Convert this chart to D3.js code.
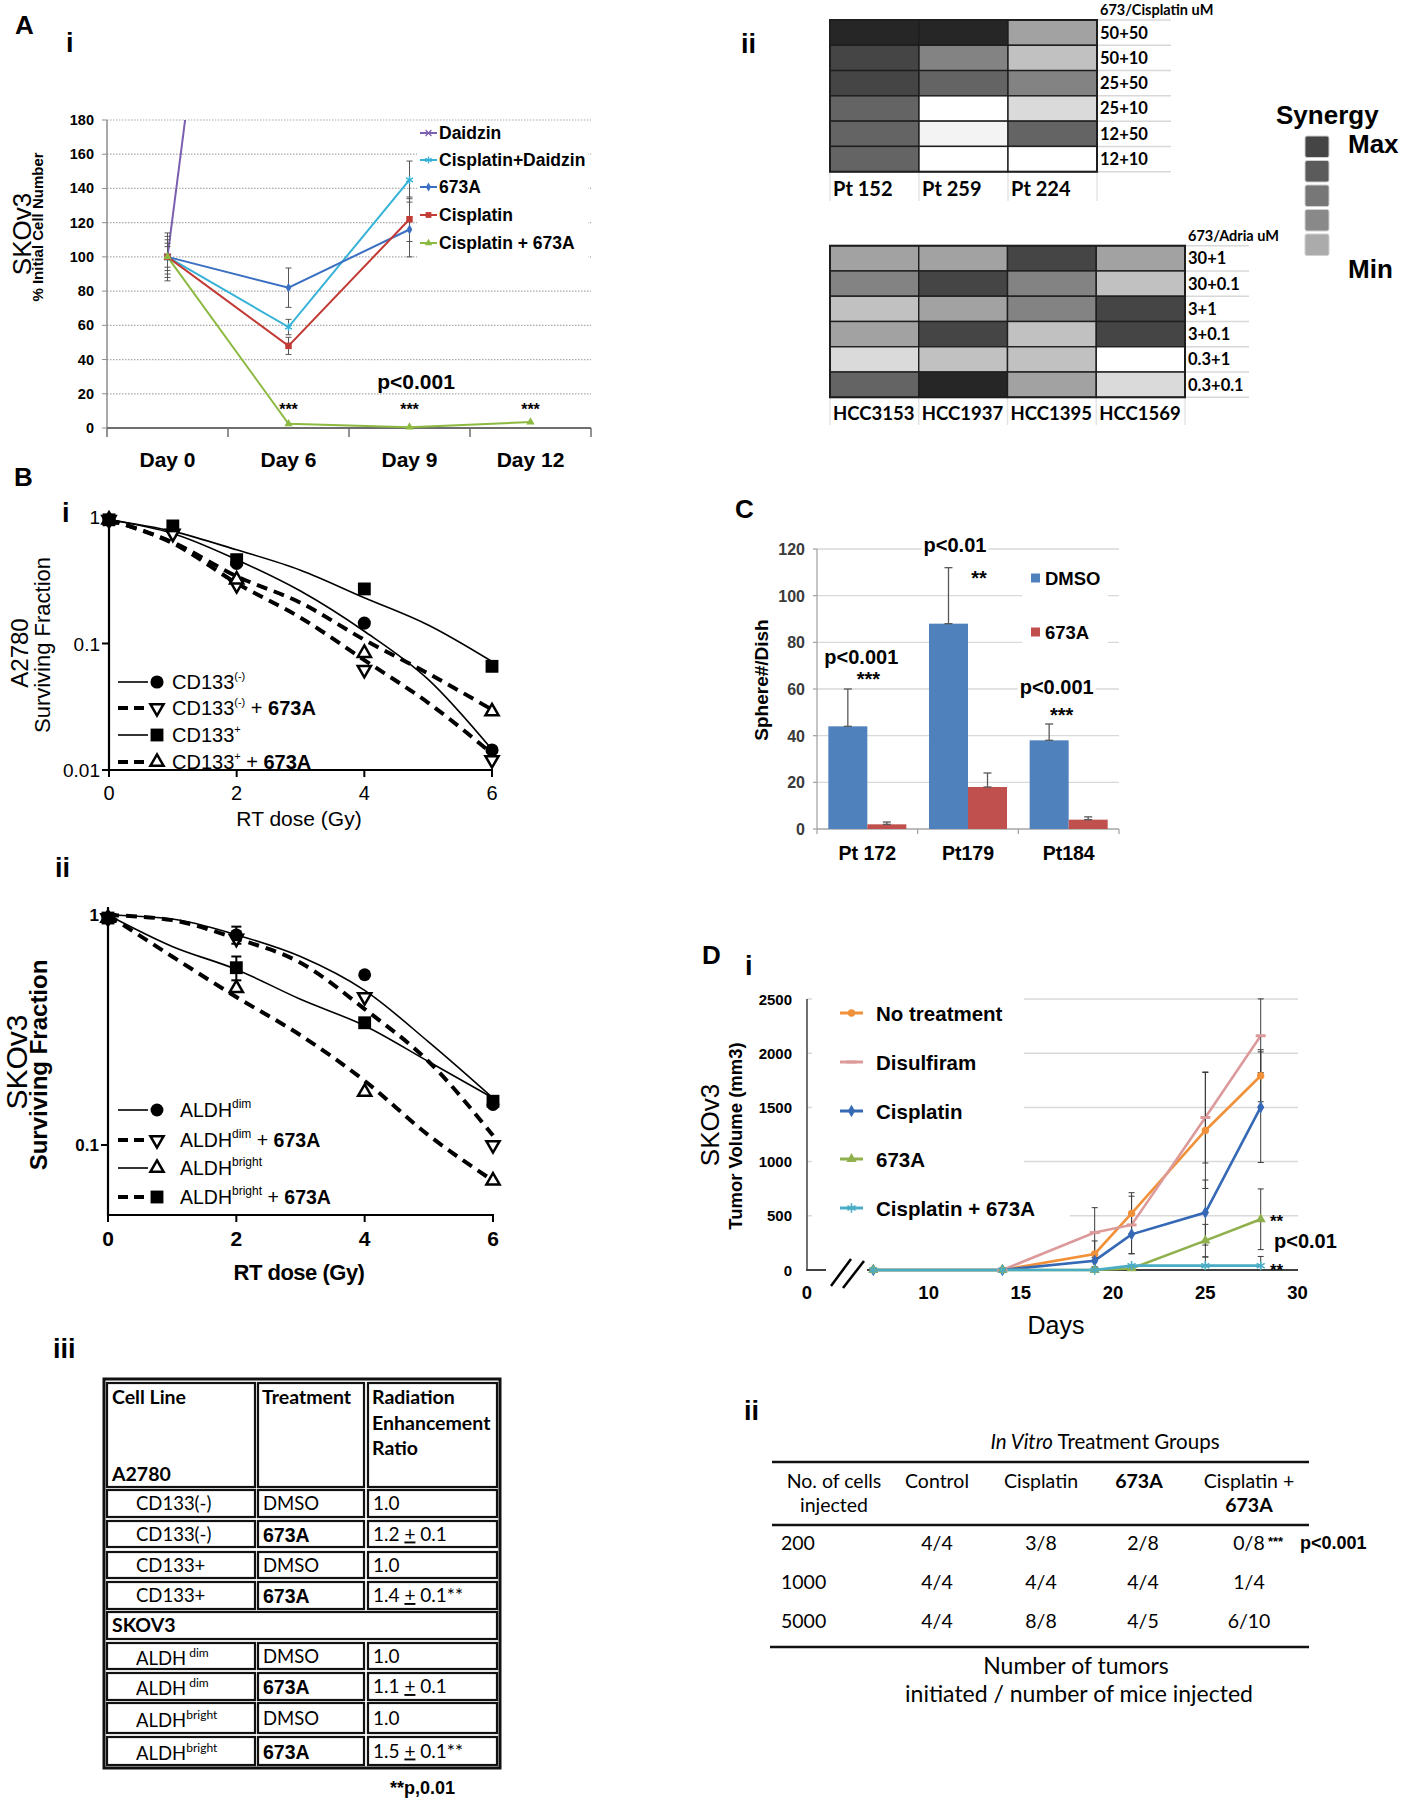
<!DOCTYPE html>
<html><head><meta charset="utf-8">
<script src="https://cdn.jsdelivr.net/npm/d3@7/dist/d3.min.js"></script>
<style>html,body{margin:0;padding:0;background:#fff}</style>
</head><body>
<svg id="fig" width="1402" height="1800" xmlns="http://www.w3.org/2000/svg"></svg>
<script>
// ======================= DATA =======================
// --- Panel A(i): SKOv3, % initial cell number ---
const aDays = ["Day 0","Day 6","Day 9","Day 12"];
const aYTicks = [0,20,40,60,80,100,120,140,160,180];
const aNames = ["Daidzin","Cisplatin+Daidzin","673A","Cisplatin","Cisplatin + 673A"];
const aDaidzin       = [100, 650, null, null];
const aCisDaidzin    = [100, 59, 145, null];
const a673A          = [100, 82, 116, null];
const aCisplatin     = [100, 48, 122, null];
const aCis673A       = [100, 2.5, 0.5, 3.5];
const aDaidzinErr    = [6, null, null, null];
const aCisDaidzinErr = [8, 4.5, 11, null];
const a673AErr       = [14, 11.5, 16, null];
const aCisplatinErr  = [12, 5, 13, null];
const aCis673AErr    = [10, null, null, null];
const aStars = ["", "***", "***", "***"];
const aPText = "p<0.001";

// --- Panel A(ii): synergy heatmaps (0 = min/white ... 7 = max/dark) ---
const hmTopTitle = "673/Cisplatin uM";
const hmTopCols = ["Pt 152","Pt 259","Pt 224"];
const hmTopRows = ["50+50","50+10","25+50","25+10","12+50","12+10"];
const hmTopVals = [[7,7,3],[6,4,2],[6,5,4],[5,0,1.2],[5,0.4,5],[5,0,0]];
const hmBotTitle = "673/Adria uM";
const hmBotCols = ["HCC3153","HCC1937","HCC1395","HCC1569"];
const hmBotRows = ["30+1","30+0.1","3+1","3+0.1","0.3+1","0.3+0.1"];
const hmBotVals = [[3,3,6,3],[4,6,4,2],[2,3,4,6],[3,6,2,6],[1.2,2,2,0],[5,7,3,1.2]];
const synLegendLevels = [6,5.3,4.4,3.8,2.7];
const synLegendText = ["Synergy","Max","Min"];

// --- Panel B(i): A2780 surviving fraction ---
const b1FitDose     = [0,1,2,3,4,5,6];
const b1FitNeg      = [0.95,0.74,0.46,0.26,0.125,0.052,0.0145];
const b1FitNeg673A  = [0.95,0.62,0.30,0.16,0.074,0.034,0.0135];
const b1FitPos      = [0.95,0.77,0.55,0.38,0.23,0.14,0.072];
const b1FitPos673A  = [0.95,0.63,0.34,0.21,0.107,0.058,0.03];
const b1DoseNeg     = [0,2,4,6],   b1Neg     = [0.95,0.43,0.145,0.0144];
const b1DoseNeg673A = [0,1,2,4,6], b1Neg673A = [0.95,0.74,0.29,0.062,0.012];
const b1DosePos     = [0,1,2,4,6], b1Pos     = [0.95,0.85,0.46,0.27,0.066];
const b1DosePos673A = [0,2,4,6],   b1Pos673A = [0.95,0.32,0.084,0.029];
const b1XTicks = [0,2,4,6];
const b1YTicks = [1,0.1,0.01];
const b1YTickLabels = ["1","0.1","0.01"];

// --- Panel B(ii): SKOv3 surviving fraction ---
const b2FitDose       = [0,1,2,3,4,5,6];
const b2FitDim        = [1.0,0.96,0.82,0.66,0.47,0.28,0.16];
const b2FitDim673A    = [1.0,0.95,0.79,0.62,0.39,0.23,0.11];
const b2FitTri        = [1.0,0.66,0.44,0.30,0.19,0.11,0.07];
const b2FitSq         = [1.0,0.73,0.58,0.43,0.33,0.23,0.16];
const b2Dose          = [0,2,4,6];
const b2Dim           = [0.97,0.82,0.55,0.15];
const b2Dim673A       = [0.97,0.79,0.44,0.10];
const b2Bright        = [0.97,0.48,0.17,0.07];
const b2Bright673A    = [0.97,0.59,0.34,0.155];
const b2DimErr        = [0,0.07,0,0];
const b2Bright673AErr = [0,0.07,0,0];
const b2XTicks = [0,2,4,6];
const b2YTicks = [1,0.1];
const b2YTickLabels = ["1","0.1"];

// --- Panel B(iii): radiation enhancement table ---
const tblHead1 = "Cell Line", tblHead2 = "Treatment";
const tblHead3 = ["Radiation","Enhancement","Ratio"];
const tblGroups = ["A2780","SKOV3"];
const tblCellBase = ["CD133(-)","CD133(-)","CD133+","CD133+","ALDH","ALDH","ALDH","ALDH"];
const tblCellSup  = ["","","","","dim","dim","bright","bright"];
const tblTreatment = ["DMSO","673A","DMSO","673A","DMSO","673A","DMSO","673A"];
const tblRatio   = ["1.0","1.2","1.0","1.4","1.0","1.1","1.0","1.5"];
const tblRatioSD = [null,"0.1",null,"0.1",null,"0.1",null,"0.1"];
const tblSig     = ["","","","**","","","","**"];
const tblFootnote = "**p,0.01";

// --- Panel C: spheres per dish ---
const cCats = ["Pt 172","Pt179","Pt184"];
const cSeries = ["DMSO","673A"];
const cDMSO = [44, 88, 38];
const cDMSOErr = [16, 24, 7];
const c673A = [2, 18, 4];
const c673AErr = [1, 6, 1.2];
const cYTicks = [0,20,40,60,80,100,120];
const cPText = ["p<0.001","p<0.01","p<0.001"];
const cStars = ["***","**","***"];

// --- Panel D(i): tumor volume ---
const dDays = [7,14,19,21,25,28];
const dNames = ["No treatment","Disulfiram","Cisplatin","673A","Cisplatin + 673A"];
const dNoTx       = [0,0,148,523,1287,1792];
const dNoTxErr    = [0,0,120,190,535,240];
const dDisulf     = [null,0,345,416,1407,2161];
const dDisulfErr  = [0,0,230,265,420,340];
const dCis        = [0,0,86,329,530,1502];
const dCisErr     = [0,0,60,180,300,510];
const d673A       = [0,0,0,15,271,468];
const d673AErr    = [0,0,0,0,150,280];
const dCis673A    = [0,0,0,40,40,40];
const dCis673AErr = [0,0,0,0,80,85];
const dYTicks = [0,500,1000,1500,2000,2500];
const dXTicks = [0,10,15,20,25,30];

// --- Panel D(ii): tumor initiation table ---
const dtTitleItalic = "In Vitro", dtTitleRest = " Treatment Groups";
const dtCells = ["200","1000","5000"];
const dtControlTumors = [4,4,4], dtControlMice = [4,4,4];
const dtCisTumors     = [3,4,8], dtCisMice     = [8,4,8];
const dt673ATumors    = [2,4,4], dt673AMice    = [8,4,5];
const dtComboTumors   = [0,1,6], dtComboMice   = [8,4,10];
const dtStars = ["***","",""];
const dtP = ["p<0.001","",""];
const dtFooter = ["Number of tumors","initiated / number of mice injected"];

// ======================= DRAWING =======================
const SANS = '"Liberation Sans", Arial, Helvetica, sans-serif';
const CAL  = 'Lato, "Open Sans", "Liberation Sans", sans-serif';
const svg = d3.select("#fig").attr("font-family", SANS);
svg.append("rect").attr("width",1402).attr("height",1800).attr("fill","#fff");
const T_TIMES = d3.symbolTimes || d3.symbolCross;
const T_AST = d3.symbolAsterisk || d3.symbolCross;

function txt(g, s, x, y, o = {}) {
  const t = g.append("text").attr("x", x).attr("y", y).text(s)
    .attr("font-size", o.size || 14).attr("font-weight", o.bold ? "bold" : "normal")
    .attr("text-anchor", o.anchor || "start").attr("fill", o.fill || "#000");
  if (o.family) t.attr("font-family", o.family);
  if (o.italic) t.attr("font-style", "italic");
  if (o.rotate) t.attr("transform", `rotate(${o.rotate},${x},${y})`);
  if (o.ls) t.attr("letter-spacing", o.ls);
  return t;
}
function rich(g, parts, x, y, o = {}) {
  const t = g.append("text").attr("x", x).attr("y", y).attr("font-size", o.size || 14)
    .attr("text-anchor", o.anchor || "start").attr("fill", "#000");
  if (o.family) t.attr("font-family", o.family);
  if (o.bold) t.attr("font-weight", "bold");
  parts.forEach(p => {
    const s = t.append("tspan").text(p.t);
    if (p.bold !== undefined) s.attr("font-weight", p.bold ? "bold" : "normal");
    if (p.family) s.attr("font-family", p.family);
    if (p.size) s.attr("font-size", p.size);
    if (p.underline) s.attr("text-decoration", "underline");
    if (p.italic) s.attr("font-style", "italic");
    if (p.dy) s.attr("dy", p.dy);
    if (p.dx) s.attr("dx", p.dx);
  });
  return t;
}
function marker(g, type, size, x, y, o = {}) {
  return g.append("path").attr("d", d3.symbol().type(type).size(size)())
    .attr("transform", `translate(${x},${y})${o.rot ? " rotate(" + o.rot + ")" : ""}`)
    .attr("fill", o.fill || "none").attr("stroke", o.stroke || "none")
    .attr("stroke-width", o.sw || 1);
}
function seg(g, x1, y1, x2, y2, stroke, sw, dash) {
  const l = g.append("line").attr("x1", x1).attr("y1", y1).attr("x2", x2).attr("y2", y2)
    .attr("stroke", stroke).attr("stroke-width", sw);
  if (dash) l.attr("stroke-dasharray", dash);
  return l;
}

// ---------- panel letters ----------
(function () {
  const g = svg.append("g");
  [["A",15,34,26],["i",66,52,27],["ii",741,53,27],["B",14,486,26],["i",62,522,27],
   ["ii",55,877,27],["iii",53,1358,27],["C",735,518,26],["D",702,964,26],["i",745,975,27],
   ["ii",744,1420,27]].forEach(([s,x,y,sz]) => txt(g, s, x, y, {size: sz, bold: true}));
})();

// ---------- Panel A(i) ----------
(function () {
  const g = svg.append("g");
  const x = d3.scaleBand().domain(aDays).range([107, 591]);
  const y = d3.scaleLinear().domain([0, 180]).range([428, 120]);
  const cx = d => x(d) + x.bandwidth() / 2;
  g.append("g").selectAll("line").data(aYTicks.filter(v => v > 0)).join("line")
    .attr("x1", 107).attr("x2", 591).attr("y1", d => y(d)).attr("y2", d => y(d))
    .attr("stroke", "#a9a9a9").attr("stroke-width", 1.2).attr("stroke-dasharray", "1.5,1.5");
  seg(g, 107, 120, 107, 428, "#8c8c8c", 1.5);
  g.append("g").selectAll("line").data(aYTicks).join("line")
    .attr("x1", 102).attr("x2", 107).attr("y1", d => y(d)).attr("y2", d => y(d)).attr("stroke", "#8c8c8c");
  g.append("g").selectAll("text").data(aYTicks).join("text")
    .attr("x", 94).attr("y", d => y(d) + 5).attr("text-anchor", "end")
    .attr("font-size", 14.5).attr("font-weight", "bold").text(d => d);
  seg(g, 107, 428, 591, 428, "#6e6e6e", 2);
  g.append("g").selectAll("line").data(aDays.map(d => x(d)).concat([591])).join("line")
    .attr("x1", d => d).attr("x2", d => d).attr("y1", 428).attr("y2", 437).attr("stroke", "#6e6e6e").attr("stroke-width", 1.5);
  g.append("g").selectAll("text").data(aDays).join("text")
    .attr("x", d => cx(d)).attr("y", 467).attr("text-anchor", "middle")
    .attr("font-size", 21).attr("font-weight", "bold").text(d => d);
  txt(g, "SKOv3", 31, 234, {size: 26, anchor: "middle", rotate: -90});
  txt(g, "% Initial Cell Number", 43, 227, {size: 15, bold: true, anchor: "middle", rotate: -90});

  const series = [
    {vals: aDaidzin, err: aDaidzinErr, color: "#7b5fb0", type: T_TIMES, stroke: true, size: 30},
    {vals: aCisDaidzin, err: aCisDaidzinErr, color: "#36b2d8", type: T_AST, stroke: true, size: 45},
    {vals: a673A, err: a673AErr, color: "#3b6fc2", type: d3.symbolDiamond, size: 28},
    {vals: aCisplatin, err: aCisplatinErr, color: "#c23b36", type: d3.symbolSquare, size: 42},
    {vals: aCis673A, err: aCis673AErr, color: "#8cb940", type: d3.symbolTriangle, size: 30}
  ];
  svg.append("clipPath").attr("id", "clipA").append("rect").attr("x", 107).attr("y", 120).attr("width", 484).attr("height", 310);
  const gl = g.append("g").attr("clip-path", "url(#clipA)");
  const line = d3.line().defined(d => d != null).x((d, i) => cx(aDays[i])).y(d => y(d));
  series.forEach(s => {
    gl.append("path").attr("d", line(s.vals)).attr("fill", "none").attr("stroke", s.color).attr("stroke-width", 2);
  });
  series.forEach(s => {
    s.vals.forEach((v, i) => {
      const e = s.err[i];
      if (v == null || e == null || e === 0) return;
      const xx = cx(aDays[i]);
      seg(g, xx, y(v - e), xx, y(v + e), "#555", 1);
      seg(g, xx - 3, y(v - e), xx + 3, y(v - e), "#555", 1);
      seg(g, xx - 3, y(v + e), xx + 3, y(v + e), "#555", 1);
    });
  });
  series.forEach(s => {
    s.vals.forEach((v, i) => {
      if (v == null || v > 180) return;
      marker(g, s.type, s.size, cx(aDays[i]), y(v), s.stroke ? {stroke: s.color, sw: 1.5} : {fill: s.color});
    });
  });
  g.append("rect").attr("x", 417).attr("y", 124).attr("width", 171).attr("height", 138).attr("fill", "#fff");
  const ly = [133, 160, 187, 215, 243];
  series.forEach((s, i) => {
    seg(g, 420, ly[i], 437, ly[i], s.color, 2);
    marker(g, s.type, s.size * 0.8, 428.5, ly[i], s.stroke ? {stroke: s.color, sw: 1.3} : {fill: s.color});
    txt(g, aNames[i], 439, ly[i] + 6, {size: 17.5, bold: true});
  });
  txt(g, aPText, 416, 389, {size: 21, bold: true, anchor: "middle"});
  aStars.forEach((s, i) => { if (s) txt(g, s, cx(aDays[i]), 415, {size: 16, bold: true, anchor: "middle"}); });
})();

// ---------- Panel A(ii) ----------
(function () {
  const g = svg.append("g");
  const grey = d3.scaleLinear().domain([0, 7]).range(["#ffffff", "#262626"]);
  function heat(cols, rows, vals, x0, x1, y0, y1, title, colSize, labLineEnd, colLabY) {
    const x = d3.scaleBand().domain(cols).range([x0, x1]);
    const y = d3.scaleBand().domain(rows).range([y0, y1]);
    rows.concat(["_end"]).forEach((r, i) => {
      const yy = i < rows.length ? y(r) : y1;
      seg(g, x1, yy, labLineEnd, yy, "#d8d8d8", 1.5);
    });
    cols.concat(["_end"]).forEach((c, i) => {
      const xx = i < cols.length ? x(c) : x1;
      seg(g, xx, y1, xx, colLabY + 12, "#e4e4e4", 1.5);
    });
    rows.forEach((r, ri) => cols.forEach((c, ci) => {
      g.append("rect").attr("x", x(c)).attr("y", y(r)).attr("width", x.bandwidth()).attr("height", y.bandwidth())
        .attr("fill", grey(vals[ri][ci])).attr("stroke", "#1e1e1e").attr("stroke-width", 1.4);
    }));
    g.append("rect").attr("x", x0).attr("y", y0).attr("width", x1 - x0).attr("height", y1 - y0)
      .attr("fill", "none").attr("stroke", "#1e1e1e").attr("stroke-width", 2);
    rows.forEach(r => txt(g, r, x1 + 3, y(r) + y.bandwidth() / 2 + 6, {size: 16.5, bold: true, family: CAL}));
    cols.forEach(c => txt(g, c, x(c) + 3, colLabY + 7, {size: colSize, bold: true, family: CAL}));
    txt(g, title, x1 + 3, y0 - 5, {size: 14.5, bold: true, family: CAL});
  }
  heat(hmTopCols, hmTopRows, hmTopVals, 830, 1097, 20, 171.7, hmTopTitle, 20, 1171, 189);
  heat(hmBotCols, hmBotRows, hmBotVals, 830, 1185, 245.7, 397.3, hmBotTitle, 18.5, 1249, 413);
  txt(g, synLegendText[0], 1276, 124, {size: 26, bold: true});
  synLegendLevels.forEach((v, i) => {
    g.append("rect").attr("x", 1305).attr("y", 136 + i * 24.5).attr("width", 24).attr("height", 21.5)
      .attr("rx", 2).attr("fill", grey(v)).attr("stroke", "#d0d0d0").attr("stroke-width", 1);
  });
  txt(g, synLegendText[1], 1348, 153, {size: 26, bold: true});
  txt(g, synLegendText[2], 1348, 278, {size: 26, bold: true});
})();

// ---------- Panel B(i) ----------
(function () {
  const g = svg.append("g");
  const x = d3.scaleLinear().domain([0, 6]).range([109, 492]);
  const y = d3.scaleLog().domain([0.01, 1]).range([770, 517]);
  const line = d3.line().curve(d3.curveMonotoneX).x((d, i) => x(b1FitDose[i])).y(d => y(d));
  const SOL = {w: 1.6, dash: null}, DSH = {w: 4, dash: "11,7"};
  [[b1FitNeg, SOL], [b1FitPos, SOL], [b1FitNeg673A, DSH], [b1FitPos673A, DSH]].forEach(([d, st]) => {
    const p = g.append("path").attr("d", line(d)).attr("fill", "none").attr("stroke", "#000").attr("stroke-width", st.w);
    if (st.dash) p.attr("stroke-dasharray", st.dash);
  });
  seg(g, 109, 512, 109, 771, "#000", 2.2);
  seg(g, 108, 770, 493, 770, "#000", 2.2);
  b1YTicks.forEach((t, i) => {
    seg(g, 102, y(t), 109, y(t), "#000", 2);
    txt(g, b1YTickLabels[i], 100, y(t) + 7, {size: 19, anchor: "end"});
  });
  b1XTicks.forEach(t => {
    seg(g, x(t), 770, x(t), 777, "#000", 2);
    txt(g, t, x(t), 800, {size: 20, anchor: "middle"});
  });
  txt(g, "RT dose (Gy)", 299, 826, {size: 21, anchor: "middle"});
  txt(g, "A2780", 28, 653, {size: 24, anchor: "middle", rotate: -90});
  txt(g, "Surviving Fraction", 50, 645, {size: 22, anchor: "middle", rotate: -90});
  const mk = {
    circle: (xx, yy) => marker(g, d3.symbolCircle, 135, xx, yy, {fill: "#000"}),
    square: (xx, yy) => marker(g, d3.symbolSquare, 165, xx, yy, {fill: "#000"}),
    down: (xx, yy) => marker(g, d3.symbolTriangle, 75, xx, yy, {fill: "#fff", stroke: "#000", sw: 2.5, rot: 180}),
    up: (xx, yy) => marker(g, d3.symbolTriangle, 75, xx, yy, {fill: "#fff", stroke: "#000", sw: 2.5})
  };
  b1DoseNeg673A.forEach((d, i) => mk.down(x(d), y(b1Neg673A[i])));
  b1DosePos673A.forEach((d, i) => mk.up(x(d), y(b1Pos673A[i])));
  b1DoseNeg.forEach((d, i) => mk.circle(x(d), y(b1Neg[i])));
  b1DosePos.forEach((d, i) => mk.square(x(d), y(b1Pos[i])));
  const ly = [682, 708, 735, 762];
  const kinds = [["circle", SOL], ["down", DSH], ["square", SOL], ["up", DSH]];
  kinds.forEach(([k, st], i) => {
    seg(g, 118, ly[i], 148, ly[i], "#000", st.w, st.dash ? "10,6" : null);
    mk[k](157, ly[i]);
  });
  rich(g, [{t: "CD133"}, {t: "(-)", size: 11, dy: -9}], 172, ly[0] + 7, {size: 20});
  rich(g, [{t: "CD133"}, {t: "(-)", size: 11, dy: -9}, {t: " + ", dy: 9}, {t: "673A", bold: true}], 172, ly[1] + 7, {size: 20});
  rich(g, [{t: "CD133"}, {t: "+", size: 11, dy: -9}], 172, ly[2] + 7, {size: 20});
  rich(g, [{t: "CD133"}, {t: "+", size: 11, dy: -9}, {t: " + ", dy: 9}, {t: "673A", bold: true}], 172, ly[3] + 7, {size: 20});
})();

// ---------- Panel B(ii) ----------
(function () {
  const g = svg.append("g");
  const x = d3.scaleLinear().domain([0, 6]).range([108, 493]);
  const y = d3.scaleLog().domain([0.1, 1]).range([1145, 915]);
  const line = d3.line().curve(d3.curveMonotoneX).x((d, i) => x(b2FitDose[i])).y(d => y(d));
  const SOL = {w: 1.6, dash: null}, DSH = {w: 4, dash: "11,7"};
  [[b2FitDim, SOL], [b2FitSq, SOL], [b2FitDim673A, DSH], [b2FitTri, DSH]].forEach(([d, st]) => {
    const p = g.append("path").attr("d", line(d)).attr("fill", "none").attr("stroke", "#000").attr("stroke-width", st.w);
    if (st.dash) p.attr("stroke-dasharray", st.dash);
  });
  seg(g, 108, 907, 108, 1216, "#000", 2.2);
  seg(g, 107, 1215, 494, 1215, "#000", 2.2);
  b2YTicks.forEach((t, i) => {
    seg(g, 101, y(t), 108, y(t), "#000", 2);
    txt(g, b2YTickLabels[i], 99, y(t) + 6, {size: 17, bold: true, anchor: "end"});
  });
  b2XTicks.forEach(t => {
    seg(g, x(t), 1215, x(t), 1222, "#000", 2);
    txt(g, t, x(t), 1246, {size: 21, bold: true, anchor: "middle"});
  });
  txt(g, "RT dose (Gy)", 299, 1280, {size: 22, bold: true, anchor: "middle", ls: -0.5});
  txt(g, "SKOv3", 27, 1062, {size: 30, anchor: "middle", rotate: -90});
  txt(g, "Surviving Fraction", 47, 1065, {size: 24, bold: true, anchor: "middle", rotate: -90});
  [[b2Dim, b2DimErr], [b2Bright673A, b2Bright673AErr]].forEach(([v, e]) => {
    v.forEach((val, i) => {
      if (!e[i]) return;
      const xx = x(b2Dose[i]);
      seg(g, xx, y(val - e[i]), xx, y(val + e[i]), "#000", 2);
      seg(g, xx - 5, y(val - e[i]), xx + 5, y(val - e[i]), "#000", 2);
      seg(g, xx - 5, y(val + e[i]), xx + 5, y(val + e[i]), "#000", 2);
    });
  });
  const mk = {
    circle: (xx, yy) => marker(g, d3.symbolCircle, 130, xx, yy, {fill: "#000"}),
    square: (xx, yy) => marker(g, d3.symbolSquare, 165, xx, yy, {fill: "#000"}),
    down: (xx, yy) => marker(g, d3.symbolTriangle, 75, xx, yy, {fill: "#fff", stroke: "#000", sw: 2.5, rot: 180}),
    up: (xx, yy) => marker(g, d3.symbolTriangle, 75, xx, yy, {fill: "#fff", stroke: "#000", sw: 2.5})
  };
  b2Dose.forEach((d, i) => mk.up(x(d), y(b2Bright[i])));
  b2Dose.forEach((d, i) => mk.down(x(d), y(b2Dim673A[i])));
  b2Dose.forEach((d, i) => mk.square(x(d), y(b2Bright673A[i])));
  b2Dose.forEach((d, i) => mk.circle(x(d), y(b2Dim[i])));
  const ly = [1110, 1140, 1168, 1197];
  const kinds = [["circle", SOL], ["down", DSH], ["up", SOL], ["square", DSH]];
  kinds.forEach(([k, st], i) => {
    seg(g, 118, ly[i], 148, ly[i], "#000", st.w, st.dash ? "10,6" : null);
    mk[k](157, ly[i]);
  });
  rich(g, [{t: "ALDH"}, {t: "dim", size: 12, dy: -9}], 180, ly[0] + 7, {size: 19.5});
  rich(g, [{t: "ALDH"}, {t: "dim", size: 12, dy: -9}, {t: " + ", dy: 9}, {t: "673A", bold: true}], 180, ly[1] + 7, {size: 19.5});
  rich(g, [{t: "ALDH"}, {t: "bright", size: 12, dy: -9}], 180, ly[2] + 7, {size: 19.5});
  rich(g, [{t: "ALDH"}, {t: "bright", size: 12, dy: -9}, {t: " + ", dy: 9}, {t: "673A", bold: true}], 180, ly[3] + 7, {size: 19.5});
})();

// ---------- Panel B(iii) table ----------
(function () {
  const g = svg.append("g");
  const cols = [[107, 255], [258, 364], [368, 497]];
  const rowsY = [[1490, 1517], [1521, 1547], [1552, 1578], [1582, 1609], [1643, 1669], [1673, 1700], [1703, 1733], [1737, 1765]];
  const cell = (x0, x1, y0, y1) => g.append("rect").attr("x", x0).attr("y", y0).attr("width", x1 - x0).attr("height", y1 - y0)
    .attr("fill", "none").attr("stroke", "#111").attr("stroke-width", 2.2);
  g.append("rect").attr("x", 104).attr("y", 1379).attr("width", 396).attr("height", 389).attr("fill", "none").attr("stroke", "#111").attr("stroke-width", 3);
  cols.forEach(c => cell(c[0], c[1], 1383, 1487));
  rowsY.forEach(r => cols.forEach(c => cell(c[0], c[1], r[0], r[1])));
  cell(107, 497, 1612, 1639);
  const HS = 19.5, RS = 18.5;
  txt(g, tblHead1, 112, 1404, {size: HS, bold: true, family: CAL});
  txt(g, tblHead2, 262, 1404, {size: HS, bold: true, family: CAL});
  tblHead3.forEach((s, i) => txt(g, s, 372, 1404 + i * 25.7, {size: HS, bold: true, family: CAL}));
  txt(g, tblGroups[0], 112, 1481, {size: HS, bold: true, family: CAL});
  txt(g, tblGroups[1], 112, 1632, {size: HS, bold: true, family: CAL});
  rowsY.forEach((r, i) => {
    const b = (r[0] + r[1]) / 2 + 6.5;
    if (tblCellSup[i]) {
      rich(g, [{t: tblCellBase[i]}, {t: tblCellSup[i], size: 12, dy: -8, dx: tblCellSup[i] === "dim" ? 3 : 0}], 136, b + 2, {size: RS, family: CAL});
    } else {
      txt(g, tblCellBase[i], 136, b, {size: RS, family: CAL});
    }
    if (tblTreatment[i] === "673A") txt(g, tblTreatment[i], 263, b + 1, {size: 19.5, bold: true});
    else txt(g, tblTreatment[i], 263, b, {size: RS, family: CAL});
    if (tblRatioSD[i]) {
      rich(g, [{t: tblRatio[i] + " "}, {t: "+", underline: true}, {t: " " + tblRatioSD[i] + tblSig[i]}], 373, b, {size: 19, family: CAL});
    } else {
      txt(g, tblRatio[i], 373, b, {size: 19, family: CAL});
    }
  });
  txt(g, tblFootnote, 390, 1794, {size: 18, bold: true});
})();

// ---------- Panel C ----------
(function () {
  const g = svg.append("g");
  const x = d3.scaleBand().domain(cCats).range([817, 1119]).paddingInner(0.225).paddingOuter(0.1125);
  const xs = d3.scaleBand().domain(cSeries).range([0, x.bandwidth()]);
  const y = d3.scaleLinear().domain([0, 120]).range([829, 549]);
  const colors = ["#4f81bd", "#c0504d"];
  g.append("g").selectAll("line").data(cYTicks.filter(v => v > 0)).join("line")
    .attr("x1", 817).attr("x2", 1119).attr("y1", d => y(d)).attr("y2", d => y(d)).attr("stroke", "#d9d9d9").attr("stroke-width", 1.3);
  seg(g, 817, 549, 817, 829, "#a6a6a6", 1.3);
  cYTicks.forEach(t => {
    seg(g, 813, y(t), 817, y(t), "#a6a6a6", 1.3);
    txt(g, t, 805, y(t) + 6, {size: 16, bold: true, anchor: "end", fill: "#3a3a3a"});
  });
  seg(g, 817, 829, 1119, 829, "#a6a6a6", 1.5);
  [817, 817 + 302 / 3, 817 + 604 / 3, 1119].forEach(xx => seg(g, xx, 829, xx, 834, "#a6a6a6", 1.3));
  const sets = [[cDMSO, cDMSOErr], [c673A, c673AErr]];
  sets.forEach(([vals, errs], si) => {
    vals.forEach((v, i) => {
      const x0 = x(cCats[i]) + xs(cSeries[si]);
      g.append("rect").attr("x", x0).attr("y", y(v)).attr("width", xs.bandwidth()).attr("height", y(0) - y(v))
        .attr("fill", colors[si]);
      const cxp = x0 + xs.bandwidth() / 2;
      seg(g, cxp, y(v), cxp, y(v + errs[i]), "#595959", 1.3);
      seg(g, cxp - 4, y(v + errs[i]), cxp + 4, y(v + errs[i]), "#595959", 1.3);
      seg(g, cxp - 4, y(v), cxp + 4, y(v), "#595959", 1.3);
    });
  });
  cCats.forEach(c => txt(g, c, x(c) + x.bandwidth() / 2, 860, {size: 19.5, bold: true, anchor: "middle"}));
  txt(g, "Sphere#/Dish", 768, 680, {size: 19, bold: true, anchor: "middle", rotate: -90});
  g.append("rect").attr("x", 1022).attr("y", 558).attr("width", 86).attr("height", 92).attr("fill", "#fff");
  [[578, 0], [632, 1]].forEach(([yy, i]) => {
    g.append("rect").attr("x", 1031).attr("y", yy - 4.5).attr("width", 9).attr("height", 9).attr("fill", colors[i]);
    txt(g, cSeries[i], 1045, yy + 7, {size: 18.5, bold: true});
  });
  const pOff = [[-6, 664, 1, 686], [-13, 552, 11, 585], [-12, 694, -7, 722]];
  cCats.forEach((c, i) => {
    const mx = x(c) + x.bandwidth() / 2;
    const t = txt(g, cPText[i], mx + pOff[i][0], pOff[i][1], {size: 20, bold: true, anchor: "middle"});
    const bb = t.node().getBBox();
    g.insert("rect", () => t.node()).attr("x", bb.x - 2).attr("y", bb.y + 2).attr("width", bb.width + 4).attr("height", bb.height - 4).attr("fill", "#fff");
    txt(g, cStars[i], mx + pOff[i][2], pOff[i][3], {size: 20, bold: true, anchor: "middle"});
  });
})();

// ---------- Panel D(i) ----------
(function () {
  const g = svg.append("g");
  const x = d3.scaleLinear().domain([0, 5, 30]).range([807, 836.4, 1297.6]);
  const y = d3.scaleLinear().domain([0, 2500]).range([1270, 999]);
  g.append("g").selectAll("line").data(dYTicks.filter(v => v > 0)).join("line")
    .attr("x1", 807).attr("x2", 1298).attr("y1", d => y(d)).attr("y2", d => y(d)).attr("stroke", "#d9d9d9").attr("stroke-width", 1.5);
  g.append("rect").attr("x", 812).attr("y", 993).attr("width", 212).attr("height", 200).attr("fill", "#fff");
  g.append("rect").attr("x", 812).attr("y", 1193).attr("width", 258).attr("height", 32).attr("fill", "#fff");
  seg(g, 807, 999, 807, 1271, "#404040", 1.5);
  seg(g, 806, 1270, 826, 1270, "#404040", 2);
  seg(g, 867, 1270, 1298, 1270, "#404040", 2);
  seg(g, 831, 1286, 851, 1259, "#000", 2.5);
  seg(g, 843, 1288, 864, 1261, "#000", 2.5);
  dYTicks.forEach(t => txt(g, t, 792, y(t) + 5.5, {size: 15, bold: true, anchor: "end"}));
  dXTicks.forEach(t => txt(g, t, x(t), 1299, {size: 18.5, bold: true, anchor: "middle"}));
  txt(g, "Days", 1056, 1334, {size: 25, anchor: "middle"});
  txt(g, "SKOv3", 719, 1125, {size: 26, anchor: "middle", rotate: -90});
  txt(g, "Tumor Volume (mm3)", 742, 1136, {size: 18.5, bold: true, anchor: "middle", rotate: -90});
  const series = [
    {v: dNoTx, e: dNoTxErr, color: "#f0913a", kind: "circle"},
    {v: dDisulf, e: dDisulfErr, color: "#dc9a9a", kind: "dash"},
    {v: dCis, e: dCisErr, color: "#3568b5", kind: "diamond"},
    {v: d673A, e: d673AErr, color: "#8fb04c", kind: "tri"},
    {v: dCis673A, e: dCis673AErr, color: "#4bacc6", kind: "ast"}
  ];
  const drawMk = (s, xx, yy) => {
    if (s.kind === "circle") marker(g, d3.symbolCircle, 42, xx, yy, {fill: s.color});
    else if (s.kind === "diamond") marker(g, d3.symbolDiamond, 45, xx, yy, {fill: s.color});
    else if (s.kind === "tri") marker(g, d3.symbolTriangle, 45, xx, yy, {fill: s.color});
    else if (s.kind === "ast") marker(g, T_AST, 60, xx, yy, {stroke: s.color, sw: 1.6});
    else seg(g, xx - 5, yy, xx + 5, yy, s.color, 3);
  };
  const line = d3.line().defined(d => d != null).x((d, i) => x(dDays[i])).y(d => y(d));
  series.forEach(s => g.append("path").attr("d", line(s.v)).attr("fill", "none").attr("stroke", s.color).attr("stroke-width", 2.6));
  series.forEach(s => s.v.forEach((v, i) => {
    if (v == null || !s.e[i]) return;
    const xx = x(dDays[i]);
    const lo = Math.max(0, v - s.e[i]), hi = v + s.e[i];
    seg(g, xx, y(lo), xx, y(hi), "#3a3a3a", 1);
    seg(g, xx - 3, y(hi), xx + 3, y(hi), "#3a3a3a", 1);
    seg(g, xx - 3, y(lo), xx + 3, y(lo), "#3a3a3a", 1);
  }));
  series.forEach(s => s.v.forEach((v, i) => { if (v != null) drawMk(s, x(dDays[i]), y(v)); }));
  const ly = [1013, 1062, 1111, 1159, 1208];
  series.forEach((s, i) => {
    seg(g, 840, ly[i], 863, ly[i], s.color, 3);
    drawMk(s, 851.5, ly[i]);
    txt(g, dNames[i], 876, ly[i] + 7.5, {size: 20.5, bold: true});
  });
  txt(g, "**", 1270, 1227, {size: 17, bold: true});
  txt(g, "p<0.01", 1274, 1248, {size: 20, bold: true});
  txt(g, "**", 1270, 1276, {size: 17, bold: true});
})();

// ---------- Panel D(ii) table ----------
(function () {
  const g = svg.append("g");
  const F = {size: 19.5, family: CAL};
  rich(g, [{t: dtTitleItalic, italic: true}, {t: dtTitleRest}], 1105, 1449, {size: 20.5, family: CAL, anchor: "middle"});
  seg(g, 772, 1462, 1309, 1462, "#111", 2.5);
  seg(g, 772, 1525, 1309, 1525, "#111", 2.5);
  seg(g, 770, 1647, 1309, 1647, "#111", 2.5);
  const colX = [834, 937, 1041, 1143, 1249];
  txt(g, "No. of cells", colX[0], 1488, Object.assign({anchor: "middle"}, F));
  txt(g, "injected", colX[0], 1512, Object.assign({anchor: "middle"}, F));
  txt(g, "Control", colX[1], 1488, Object.assign({anchor: "middle"}, F));
  txt(g, "Cisplatin", colX[2], 1488, Object.assign({anchor: "middle"}, F));
  txt(g, "673A", colX[3] - 4, 1488, Object.assign({anchor: "middle", bold: true}, F));
  txt(g, "Cisplatin +", colX[4], 1488, Object.assign({anchor: "middle"}, F));
  txt(g, "673A", colX[4], 1512, Object.assign({anchor: "middle", bold: true}, F));
  const rowB = [1550, 1589, 1628];
  dtCells.forEach((c, i) => {
    txt(g, c, 781, rowB[i], F);
    txt(g, dtControlTumors[i] + "/" + dtControlMice[i], colX[1], rowB[i], Object.assign({anchor: "middle"}, F));
    txt(g, dtCisTumors[i] + "/" + dtCisMice[i], colX[2], rowB[i], Object.assign({anchor: "middle"}, F));
    txt(g, dt673ATumors[i] + "/" + dt673AMice[i], colX[3], rowB[i], Object.assign({anchor: "middle"}, F));
    txt(g, dtComboTumors[i] + "/" + dtComboMice[i], colX[4], rowB[i], Object.assign({anchor: "middle"}, F));
    if (dtStars[i]) txt(g, dtStars[i], 1268, rowB[i] - 4, {size: 13, bold: true});
    if (dtP[i]) txt(g, dtP[i], 1300, rowB[i] - 1, {size: 18, bold: true});
  });
  txt(g, dtFooter[0], 1076, 1674, {size: 23, family: CAL, anchor: "middle"});
  txt(g, dtFooter[1], 1079, 1702, {size: 23, family: CAL, anchor: "middle"});
})();
</script>
</body></html>
